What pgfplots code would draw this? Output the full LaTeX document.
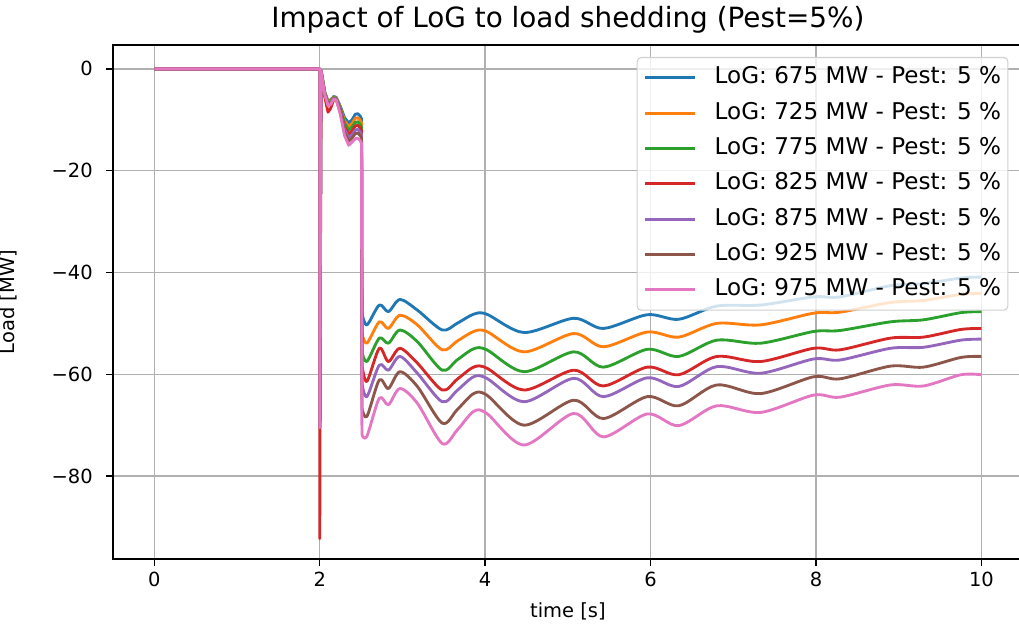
\documentclass[border=0pt]{standalone}
\usepackage{pgfplots}
\pgfplotsset{compat=1.18}
\usepackage{fontspec}
\setmainfont{DejaVu Sans}
\definecolor{c0}{HTML}{1F77B4}
\definecolor{c1}{HTML}{FF7F0E}
\definecolor{c2}{HTML}{2CA02C}
\definecolor{c3}{HTML}{D62728}
\definecolor{c4}{HTML}{9467BD}
\definecolor{c5}{HTML}{8C564B}
\definecolor{c6}{HTML}{E377C2}
\definecolor{gridgray}{HTML}{B0B0B0}
\definecolor{leggray}{HTML}{D0D0D0}
\begin{document}
\begin{tikzpicture}
\useasboundingbox (-84.75pt,-56.25pt) rectangle (679.5pt,419.25pt);
\clip (-84.75pt,-56.25pt) rectangle (679.5pt,419.25pt);
\begin{axis}[
  at={(0,0)}, anchor=south west,
  scale only axis, width=682.3pt, height=385.5pt,
  xmin=-0.5, xmax=10.5, ymin=-96.3, ymax=4.7,
  xtick={0,2,4,6,8,10}, xticklabels={0,2,4,6,8,10},
  ytick={-80,-60,-40,-20,0}, yticklabels={−80,−60,−40,−20,0},
  xtick pos=left, ytick pos=left,
  grid=major, major grid style={color=gridgray, line width=1.1pt},
  axis line style={line width=1.1pt},
  tick style={black, line width=1.1pt},
  major tick length=5pt, tick align=outside,
  tick label style={font=\fontsize{14.6}{17}\selectfont},
  xticklabel style={anchor=base, yshift=-16pt},
  yticklabel style={anchor=east, inner sep=0pt, xshift=-10pt},
  xlabel={time [s]},
  xlabel style={font=\fontsize{14.6}{17}\selectfont, at={(axis description cs:0.5,0)}, anchor=base, yshift=-44.25pt},
  title={Impact of LoG to load shedding (Pest=5\%)},
  title style={font=\fontsize{20.9}{25}\selectfont, at={(axis description cs:0.5,1)}, anchor=base, yshift=6.75pt},
  legend cell align=left,
  legend image code/.code={\draw[#1] (0pt,0pt) -- (37.5pt,0pt);},
  legend style={at={(axis description cs:1,1)}, anchor=north east, xshift=-10.8pt, yshift=-9pt,
    draw=leggray, line width=0.8pt, rounded corners=3pt, fill=white, fill opacity=0.8, text opacity=1,
    font=\fontsize{17.3}{20}\selectfont, inner xsep=5pt, inner ysep=6.75pt, row sep=9.5pt,
    nodes={inner sep=0pt, text height=13pt, text depth=4pt},
    /tikz/every odd column/.append style={column sep=13.5pt}},
  every axis plot/.append style={line width=2.14pt, line join=round},
]
% ---- 675 MW
\addplot[c0, forget plot] coordinates {(0,0) (2.0,0) (2.0,-70.5) (2.015,-0.3) (2.03,-1.5) (2.06,-4.5) (2.10,-6.3) (2.13,-6.1) (2.17,-5.4) (2.20,-5.6) (2.25,-7.4) (2.30,-9.6) (2.35,-10.6) (2.39,-10.0) (2.43,-8.9) (2.46,-8.8) (2.49,-9.3) (2.505,-9.8) (2.51,-48.0)};
\addplot[c0, smooth] coordinates {(2.51,-48.0) (2.57,-50.3) (2.72,-46.4) (2.83,-47.7) (2.97,-45.3) (3.18,-47.4) (3.48,-51.3) (3.66,-50.0) (3.86,-48.2) (4.02,-48.2) (4.47,-51.8) (5.07,-49.0) (5.43,-51.0) (5.96,-48.3) (6.34,-49.2) (6.80,-46.6) (7.33,-46.4) (7.97,-44.8) (8.29,-44.8) (8.9,-42.6) (9.3,-42.2) (9.75,-41.1) (10.0,-40.9)};
\addlegendentry{LoG: 675 MW - Pest: 5 \%}
% ---- 725 MW
\addplot[c1, forget plot] coordinates {(0,0) (2.0,0) (2.0,-70.5) (2.015,-0.3) (2.03,-1.6) (2.06,-4.6) (2.10,-6.5) (2.13,-6.3) (2.17,-5.5) (2.20,-5.7) (2.25,-7.7) (2.30,-10.2) (2.35,-11.3) (2.39,-10.7) (2.43,-9.7) (2.46,-9.6) (2.49,-10.1) (2.505,-10.6) (2.51,-52.0)};
\addplot[c1, smooth] coordinates {(2.51,-52.0) (2.57,-53.9) (2.72,-49.7) (2.83,-51.0) (2.97,-48.4) (3.18,-50.3) (3.48,-55.2) (3.66,-53.5) (3.86,-51.6) (4.02,-51.6) (4.47,-55.6) (5.07,-52.0) (5.43,-54.6) (5.96,-51.7) (6.34,-52.7) (6.80,-50.0) (7.33,-50.3) (7.97,-48.0) (8.29,-47.8) (8.9,-45.9) (9.3,-45.5) (9.75,-44.3) (10.0,-44.1)};
\addlegendentry{LoG: 725 MW - Pest: 5 \%}
% ---- 775 MW
\addplot[c2, forget plot] coordinates {(0,0) (2.0,0) (2.0,-70.5) (2.015,-0.3) (2.03,-1.7) (2.06,-4.7) (2.10,-6.7) (2.13,-6.5) (2.17,-5.6) (2.20,-5.8) (2.25,-7.9) (2.30,-10.7) (2.35,-12.0) (2.39,-11.4) (2.43,-10.5) (2.46,-10.4) (2.49,-10.9) (2.505,-11.4) (2.51,-55.6)};
\addplot[c2, smooth] coordinates {(2.51,-55.6) (2.57,-57.5) (2.72,-52.9) (2.83,-53.9) (2.97,-51.3) (3.18,-53.6) (3.48,-59.2) (3.66,-57.2) (3.86,-55.0) (4.02,-55.2) (4.47,-59.5) (5.07,-55.6) (5.43,-58.6) (5.96,-55.1) (6.34,-56.5) (6.80,-53.3) (7.33,-53.9) (7.97,-51.6) (8.29,-51.4) (8.9,-49.7) (9.3,-49.3) (9.75,-47.9) (10.0,-47.7)};
\addlegendentry{LoG: 775 MW - Pest: 5 \%}
% ---- 825 MW
\addplot[c3, forget plot] coordinates {(0,0) (2.0,0) (2.0,-92.3) (2.015,-0.5) (2.03,-2.0) (2.06,-5.5) (2.10,-8.5) (2.13,-7.8) (2.17,-6.0) (2.20,-6.0) (2.25,-8.2) (2.30,-11.4) (2.35,-12.8) (2.39,-12.2) (2.43,-11.2) (2.46,-11.1) (2.49,-11.6) (2.505,-12.1) (2.51,-58.2)};
\addplot[c3, smooth] coordinates {(2.51,-58.2) (2.57,-61.4) (2.72,-54.9) (2.83,-57.5) (2.97,-54.9) (3.18,-57.8) (3.48,-63.1) (3.66,-61.0) (3.86,-58.6) (4.02,-58.8) (4.47,-63.1) (5.07,-59.2) (5.43,-62.3) (5.96,-58.6) (6.34,-60.1) (6.80,-56.5) (7.33,-57.5) (7.97,-54.9) (8.29,-55.2) (8.9,-52.9) (9.3,-52.7) (9.75,-51.2) (10.0,-51.0)};
\addlegendentry{LoG: 825 MW - Pest: 5 \%}
% ---- 875 MW
\addplot[c4, forget plot] coordinates {(0,0) (2.0,0) (2.0,-70.5) (2.015,-0.3) (2.03,-1.8) (2.06,-4.8) (2.10,-6.9) (2.13,-6.7) (2.17,-5.7) (2.20,-5.9) (2.25,-8.4) (2.30,-11.9) (2.35,-13.5) (2.39,-12.9) (2.43,-12.0) (2.46,-11.9) (2.49,-12.4) (2.505,-12.9) (2.51,-61.8)};
\addplot[c4, smooth] coordinates {(2.51,-61.8) (2.57,-64.4) (2.72,-58.2) (2.83,-59.2) (2.97,-56.5) (3.18,-59.8) (3.48,-65.4) (3.66,-63.2) (3.86,-60.5) (4.02,-60.8) (4.47,-65.4) (5.07,-60.8) (5.43,-64.4) (5.96,-60.7) (6.34,-62.4) (6.80,-58.5) (7.33,-59.8) (7.97,-57.0) (8.29,-57.2) (8.9,-54.9) (9.3,-54.7) (9.75,-53.3) (10.0,-53.1)};
\addlegendentry{LoG: 875 MW - Pest: 5 \%}
% ---- 925 MW
\addplot[c5, forget plot] coordinates {(0,0) (2.0,0) (2.0,-70.5) (2.015,-0.3) (2.03,-1.9) (2.06,-4.9) (2.10,-7.0) (2.13,-6.8) (2.17,-5.8) (2.20,-6.0) (2.25,-8.7) (2.30,-12.5) (2.35,-14.2) (2.39,-13.6) (2.43,-12.7) (2.46,-12.6) (2.49,-13.1) (2.505,-13.6) (2.51,-66.7)};
\addplot[c5, smooth] coordinates {(2.51,-66.7) (2.57,-68.3) (2.72,-61.1) (2.83,-62.8) (2.97,-59.5) (3.18,-62.4) (3.48,-69.6) (3.66,-67.0) (3.86,-63.8) (4.02,-64.1) (4.47,-70.0) (5.07,-65.1) (5.43,-68.7) (5.96,-64.4) (6.34,-66.2) (6.80,-62.1) (7.33,-63.8) (7.97,-60.5) (8.29,-60.9) (8.9,-58.4) (9.3,-58.6) (9.75,-56.7) (10.0,-56.5)};
\addlegendentry{LoG: 925 MW - Pest: 5 \%}
% ---- 975 MW
\addplot[c6, forget plot] coordinates {(0,0) (2.0,0) (2.0,-70.5) (2.015,-0.3) (2.03,-2.0) (2.06,-5.0) (2.10,-7.2) (2.13,-7.0) (2.17,-5.9) (2.20,-6.1) (2.25,-9.0) (2.30,-13.1) (2.35,-15.0) (2.39,-14.4) (2.43,-13.7) (2.46,-13.6) (2.49,-14.1) (2.505,-14.6) (2.51,-71.9)};
\addplot[c6, smooth] coordinates {(2.51,-71.9) (2.57,-72.2) (2.72,-64.7) (2.83,-66.0) (2.97,-62.8) (3.18,-65.7) (3.48,-73.6) (3.66,-71.0) (3.86,-67.3) (4.02,-67.7) (4.47,-73.9) (5.07,-67.7) (5.43,-72.3) (5.96,-67.8) (6.34,-70.1) (6.80,-66.2) (7.33,-67.5) (7.97,-64.1) (8.29,-64.5) (8.9,-62.1) (9.3,-62.3) (9.75,-60.1) (10.0,-60.1)};
\addlegendentry{LoG: 975 MW - Pest: 5 \%}
\end{axis}
\node[rotate=90, anchor=base, font=\fontsize{14.6}{17}\selectfont] at (-73.5pt,192.75pt) {Load [MW]};
\end{tikzpicture}
\end{document}
